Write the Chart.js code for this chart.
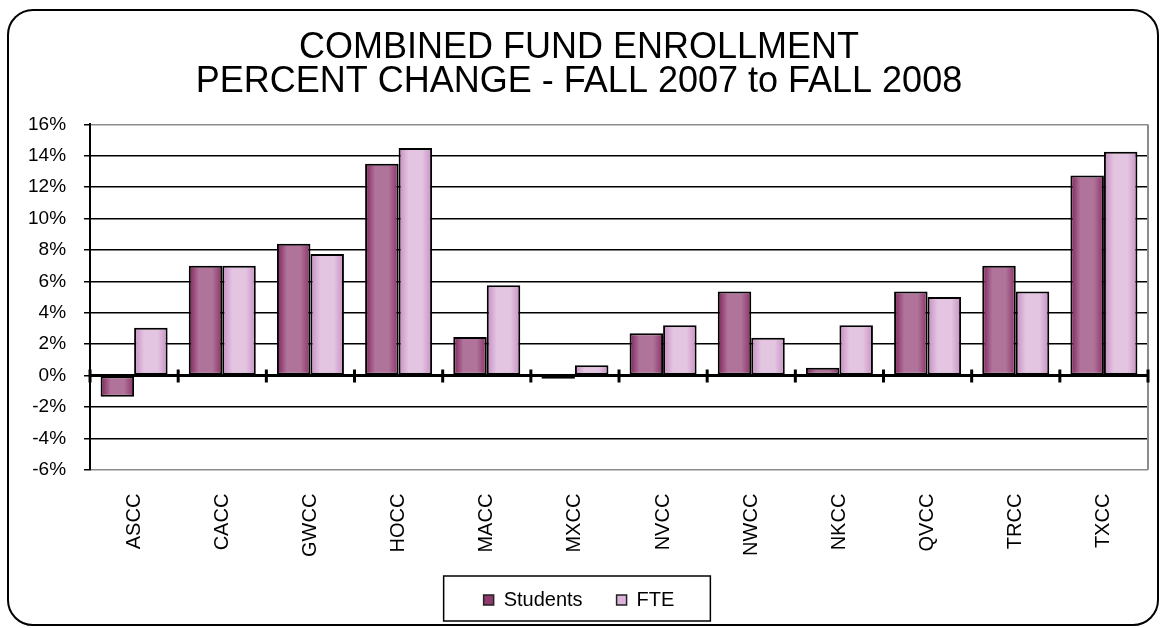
<!DOCTYPE html>
<html>
<head>
<meta charset="utf-8">
<title>Combined Fund Enrollment</title>
<script src="https://cdn.jsdelivr.net/npm/chart.js@4/dist/chart.umd.min.js"></script>
<style>
  html, body { margin: 0; padding: 0; background: #fff; }
  #wrap { position: relative; width: 1166px; height: 628px; overflow: hidden; }
  #frame {
    position: absolute; left: 7px; top: 9px; width: 1152px; height: 617px;
    border: 2px solid #000; border-radius: 26px; box-sizing: border-box;
    pointer-events: none;
  }
</style>
</head>
<body>
<div id="wrap">
  <canvas id="enrollChart" width="1166" height="628"></canvas>
  <div id="frame"></div>
</div>
<script>
// data (percent change)
const colleges = ["ASCC", "CACC", "GWCC", "HOCC", "MACC", "MXCC", "NVCC", "NWCC", "NKCC", "QVCC", "TRCC", "TXCC"];
const studentsChange = [-1.35, 7.0, 8.4, 13.5, 2.45, -0.2, 2.7, 5.35, 0.5, 5.35, 7.0, 12.75];
const fteChange = [3.05, 7.0, 7.75, 14.5, 5.75, 0.65, 3.2, 2.4, 3.2, 5.0, 5.35, 14.25];
const yTicks = [-6, -4, -2, 0, 2, 4, 6, 8, 10, 12, 14, 16];

const FONT = "'Liberation Sans', Arial, sans-serif";

// edge / middle colours for the shaded bars
const shades = [
  ["#7e2159", "#b0739a", "#8a3166"],
  ["#c68cc2", "#e3c5e1", "#c98fc5"],
];

// horizontal shading on every bar, built from the bar's own position
const barShading = {
  id: "barShading",
  beforeDatasetsDraw(chart) {
    const ctx = chart.ctx;
    chart.data.datasets.forEach((ds, di) => {
      const meta = chart.getDatasetMeta(di);
      const c = shades[di];
      meta.data.forEach((bar) => {
        const { x, width } = bar.getProps(["x", "width"], true);
        const g = ctx.createLinearGradient(x - width / 2, 0, x + width / 2, 0);
        g.addColorStop(0, c[0]);
        g.addColorStop(0.3, c[1]);
        g.addColorStop(0.7, c[1]);
        g.addColorStop(1, c[2]);
        bar.options = Object.assign({}, bar.options, { backgroundColor: g });
      });
    });
  },
};

// category axis drawn across the zero line with cross tick marks, plus the plot frame
const zeroAxis = {
  id: "zeroAxis",
  afterDatasetsDraw(chart) {
    const { ctx, chartArea } = chart;
    const x = chart.scales.x;
    const y0 = chart.scales.y.getPixelForValue(0);
    ctx.save();
    // right edge of plot area
    ctx.strokeStyle = "#8c8c8c";
    ctx.lineWidth = 2;
    ctx.beginPath();
    ctx.moveTo(chartArea.right, chartArea.top);
    ctx.lineTo(chartArea.right, chartArea.bottom);
    ctx.stroke();
    // zero line
    ctx.strokeStyle = "#000";
    ctx.lineWidth = 3;
    ctx.beginPath();
    ctx.moveTo(chartArea.left, y0);
    ctx.lineTo(chartArea.right, y0);
    ctx.stroke();
    // ticks between categories
    const marks = [x.left];
    for (let i = 1; i < colleges.length; i++) {
      marks.push((x.getPixelForValue(i - 1) + x.getPixelForValue(i)) / 2);
    }
    marks.push(x.right);
    ctx.lineWidth = 3;
    marks.forEach((m) => {
      ctx.beginPath();
      ctx.moveTo(m, y0 - 6);
      ctx.lineTo(m, y0 + 7);
      ctx.stroke();
    });
    ctx.restore();
  },
};

// box round the legend items
const legendBox = {
  id: "legendBox",
  afterDraw(chart) {
    const lg = chart.legend;
    if (!lg || !lg.legendHitBoxes.length) return;
    const boxes = lg.legendHitBoxes;
    const left = Math.min(...boxes.map((b) => b.left)) - 40;
    const right = Math.max(...boxes.map((b) => b.left + b.width)) + 36;
    const mid = boxes[0].top + boxes[0].height / 2;
    const top = mid - 24;
    const bottom = mid + 21;
    const ctx = chart.ctx;
    ctx.save();
    ctx.strokeStyle = "#000";
    ctx.lineWidth = 1.5;
    ctx.strokeRect(left, top, right - left, bottom - top);
    ctx.restore();
  },
};

const ctx = document.getElementById("enrollChart").getContext("2d");
new Chart(ctx, {
  type: "bar",
  data: {
    labels: colleges,
    datasets: [
      {
        label: "Students",
        data: studentsChange,
        backgroundColor: "#a05a86",
        borderColor: "#000",
        borderWidth: 2,
        borderSkipped: false,
        barPercentage: 1,
        categoryPercentage: 0.76,
      },
      {
        label: "FTE",
        data: fteChange,
        backgroundColor: "#ddb6da",
        borderColor: "#000",
        borderWidth: 2,
        borderSkipped: false,
        barPercentage: 1,
        categoryPercentage: 0.76,
      },
    ],
  },
  options: {
    responsive: false,
    animation: false,
    devicePixelRatio: 1,
    layout: { padding: { left: 10, right: 18, top: 10, bottom: 8 } },
    plugins: {
      tooltip: { enabled: false },
      title: {
        display: true,
        text: ["COMBINED FUND ENROLLMENT", "PERCENT CHANGE - FALL 2007 to FALL 2008"],
        color: "#000",
        font: { family: FONT, size: 36, weight: "normal", lineHeight: 0.95 },
        padding: { top: 21, bottom: 25 },
      },
      legend: {
        position: "bottom",
        labels: {
          color: "#000",
          font: { family: FONT, size: 20 },
          boxWidth: 10,
          boxHeight: 10,
          padding: 34,
          generateLabels(chart) {
            return chart.data.datasets.map((ds, i) => ({
              text: ds.label,
              fillStyle: i === 0 ? "#8e3a6e" : "#dcb4da",
              strokeStyle: "#222",
              lineWidth: 1.5,
              hidden: false,
              datasetIndex: i,
            }));
          },
        },
      },
    },
    scales: {
      x: {
        grid: { display: false },
        border: { display: false },
        ticks: {
          color: "#000",
          font: { family: FONT, size: 20 },
          maxRotation: 90,
          minRotation: 90,
          padding: 16,
        },
        afterFit(scale) {
          // the legend's own top padding already leaves the gap below the labels
          scale.height -= 17;
        },
      },
      y: {
        min: -6,
        max: 16,
        afterBuildTicks(scale) {
          scale.ticks = yTicks.map((v) => ({ value: v }));
        },
        grid: {
          color: (c) => (c.tick && (c.tick.value === 16 || c.tick.value === -6) ? "#8c8c8c" : "#000"),
          lineWidth: 1.5,
          tickLength: 6,
          tickColor: "#000",
        },
        border: { color: "#000", width: 2 },
        ticks: {
          color: "#000",
          font: { family: FONT, size: 19 },
          padding: 18,
          callback: (v) => v + "%",
        },
      },
    },
  },
  plugins: [barShading, zeroAxis, legendBox],
});
</script>
</body>
</html>
